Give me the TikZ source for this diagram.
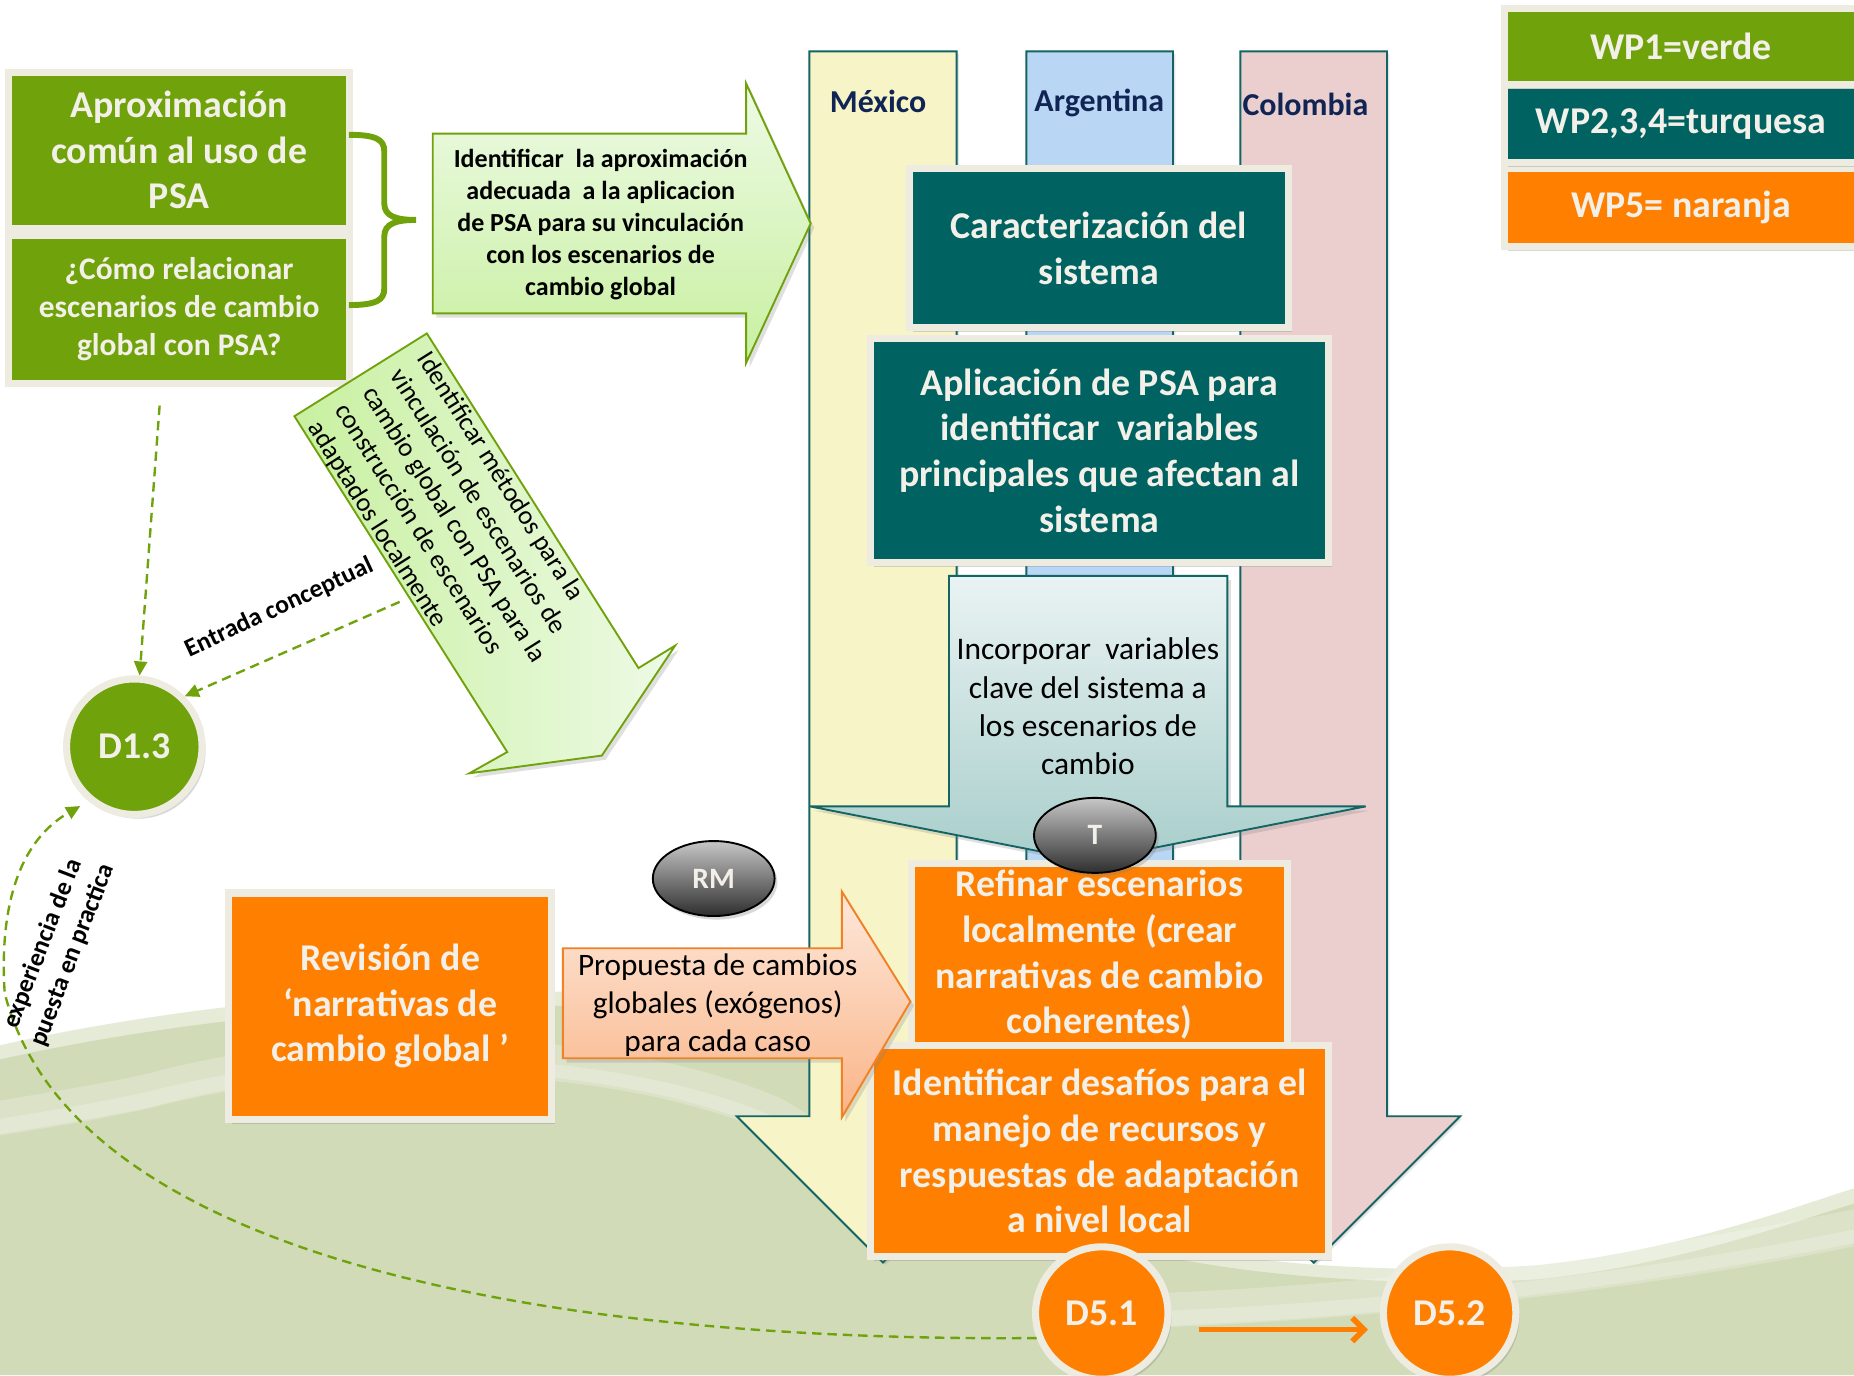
\documentclass[tikz,border=0pt]{standalone}
\usepackage{fontspec}
\setmainfont{Carlito}
\usetikzlibrary{shadows,arrows.meta,shapes.geometric}
\definecolor{wpgreen}{RGB}{112,162,12}
\definecolor{wpteal}{RGB}{0,99,98}
\definecolor{wporange}{RGB}{255,128,0}
\definecolor{beige}{RGB}{238,236,225}
\definecolor{cream}{RGB}{242,240,232}
\definecolor{navy}{RGB}{16,37,84}
\definecolor{colteal}{RGB}{20,100,100}
\definecolor{mexfill}{RGB}{247,245,200}
\definecolor{argfill}{RGB}{186,214,245}
\definecolor{colfill}{RGB}{235,207,206}
\definecolor{bggreen}{RGB}{209,219,184}
\definecolor{lgtop}{RGB}{238,250,230}
\definecolor{lgbot}{RGB}{200,240,160}
\definecolor{ictop}{RGB}{234,243,243}
\definecolor{icbot}{RGB}{168,206,203}
\definecolor{ortop}{RGB}{253,232,218}
\definecolor{orbot}{RGB}{250,180,135}
\definecolor{orline}{RGB}{242,128,36}
\tikzset{
  wpbox/.style={draw=beige, line width=3pt, inner sep=0pt, outer sep=0pt, text=cream, align=center,
    drop shadow={shadow xshift=1.5pt, shadow yshift=-1.8pt, opacity=0.3}},
  btxt/.style={font=\bfseries\fontsize{16}{19.3}\selectfont},
  dcirc/.style={circle, draw=beige, line width=3pt, inner sep=0pt, text=cream,
    font=\bfseries\fontsize{16}{19}\selectfont,
    drop shadow={shadow xshift=1.5pt, shadow yshift=-1.8pt, opacity=0.3}},
  grayell/.style={ellipse, draw=black, line width=0.8pt, top color=black!22, bottom color=black!82,
    minimum width=51.5pt, minimum height=31.7pt, inner sep=0pt, text=cream,
    font=\bfseries\fontsize{12.5}{14}\selectfont,
    drop shadow={shadow xshift=1.2pt, shadow yshift=-1.5pt, opacity=0.3}},
  dasharrow/.style={draw=wpgreen, line width=1pt, dash pattern=on 4pt off 2.5pt,
    -{Triangle[length=6pt,width=5.5pt]}},
  countryarrow/.style={draw=colteal, line width=0.8pt,
    drop shadow={shadow xshift=1pt, shadow yshift=-1pt, opacity=0.2}},
  countrylbl/.style={text=navy, font=\bfseries\fontsize{13.5}{16}\selectfont},
  blockarrow/.style={line width=0.8pt,
    drop shadow={shadow xshift=1.5pt, shadow yshift=-1.8pt, opacity=0.25}},
  softband/.style={white, opacity=0.22},
}
\begin{document}
\begin{tikzpicture}[x=0.5pt,y=-0.5pt]
\useasboundingbox (0,0) rectangle (1568,1163);
\begin{scope}
\clip (0,0) rectangle (1568,1163);
\fill[white] (0,0) rectangle (1568,1163);
% background swoosh
\fill[bggreen!55] (0,884) .. controls (150,850) and (400,820) .. (600,850) .. controls (700,866) and (800,930) .. (900,1030) .. controls (1000,1065) and (1150,1080) .. (1300,1070) .. controls (1420,1058) and (1520,1020) .. (1568,1005) -- (1568,1163) -- (0,1163) -- cycle;
\fill[bggreen] (0,896) .. controls (150,862) and (400,832) .. (600,862) .. controls (700,878) and (800,945) .. (900,1040) .. controls (1000,1075) and (1150,1090) .. (1300,1082) .. controls (1420,1070) and (1520,1032) .. (1568,1018) -- (1568,1163) -- (0,1163) -- cycle;
\draw[softband, line width=14pt] (-30,950) .. controls (60,935) and (90,930) .. (127,922) .. controls (300,875) and (520,885) .. (653,941) .. controls (690,960) and (720,990) .. (760,1050);
\draw[softband, line width=7pt] (-30,958) .. controls (60,944) and (90,938) .. (127,930) .. controls (300,885) and (520,895) .. (650,950) .. controls (690,970) and (720,1000) .. (760,1060);
\draw[softband, line width=14pt] (900,1110) .. controls (1150,1106) and (1420,1070) .. (1600,1030);
\draw[softband, line width=7pt] (900,1118) .. controls (1150,1114) and (1420,1080) .. (1600,1040);

% country columns
\path[countryarrow, fill=mexfill] (684.5,43.5) -- (809,43.5) -- (809,944) -- (870.5,944) -- (746.75,1067.75) -- (623,944) -- (684.5,944) -- cycle;
\path[countryarrow, fill=argfill] (868,43.5) -- (992,43.5) -- (992,944) -- (1054,944) -- (930,1068) -- (806,944) -- (868,944) -- cycle;
\path[countryarrow, fill=colfill] (1049,43.5) -- (1173,43.5) -- (1173,944) -- (1235,944) -- (1111,1068) -- (987,944) -- (1049,944) -- cycle;
\node[countrylbl] (mex) at (742.6,86) {México};
\node[countrylbl] (arg) at (929.7,86.8) {Argentina};
\node[countrylbl] (col) at (1104,88.6) {Colombia};

% WP1 boxes
\node[wpbox, fill=wpgreen, minimum width=144pt, minimum height=62.5pt, font=\bfseries\fontsize{13.3}{16}\selectfont] (g2) at (151.5,261.5) {¿Cómo relacionar\\escenarios de cambio\\global con PSA?};
\node[wpbox, fill=wpgreen, minimum width=144pt, minimum height=66pt, btxt] (g1) at (151.5,127) {Aproximación\\común al uso de\\PSA};
\draw[wpgreen, line width=2.5pt] (295,114) .. controls (318,114) and (325,118) .. (325,128) -- (325,172) .. controls (325,183) and (335,186) .. (352,186) .. controls (335,186) and (325,189) .. (325,200) -- (325,244) .. controls (325,254) and (318,258) .. (295,258);

% green right arrow
\path[blockarrow, draw=wpgreen, top color=lgtop, bottom color=lgbot] (366,113) -- (631,113) -- (631,70.5) -- (685.6,189) -- (631,307) -- (631,265) -- (366,265) -- cycle;
\node[align=center, font=\bfseries\fontsize{11}{13.5}\selectfont] (t1) at (508,190) {Identificar\ \ la aproximación\\adecuada\ \ a la aplicacion\\de PSA para su vinculación\\con los escenarios de\\cambio global};

% diagonal arrow
\path[blockarrow, draw=wpgreen, left color=lgbot, right color=lgtop] (361,282) -- (540,565) -- (571,546) -- (509,639) -- (397,654) -- (429,636) -- (249,352) -- cycle;
\node[rotate=-57.7, anchor=west, align=left, inner sep=0pt, font=\fontsize{11.2}{13.7}\selectfont] (t2) at (311,329) {Identificar métodos para la\\vinculación de escenarios de\\cambio global con PSA para la\\construcción de escenarios\\adaptados localmente};

% WP2-4 boxes
\node[wpbox, fill=wpteal, minimum width=160pt, minimum height=67.25pt, btxt] (car) at (929.5,210) {Caracterización del\\sistema};
\node[wpbox, fill=wpteal, minimum width=193.75pt, minimum height=95pt, btxt] (apl) at (929.75,381) {Aplicación de PSA para\\identificar\ \ variables\\principales que afectan al\\sistema};

% incorporar arrow
\path[blockarrow, draw=colteal, top color=ictop, bottom color=icbot] (802.6,487) -- (1038,487) -- (1038,682) -- (1155,682) -- (920,728) -- (685,682) -- (802.6,682) -- cycle;
\node[align=center, font=\fontsize{13.3}{16.25}\selectfont] (t3) at (920,597.5) {Incorporar\ \ variables\\clave del sistema a\\los escenarios de\\cambio};

% WP5 boxes
\node[wpbox, fill=wporange, minimum width=159pt, minimum height=77.5pt, btxt] (ref) at (930,807.5) {Refinar escenarios\\localmente (crear\\narrativas de cambio\\coherentes)};
\node[wpbox, fill=wporange, minimum width=193.5pt, minimum height=89pt, btxt] (ide) at (930,973.5) {Identificar desafíos para el\\manejo de recursos y\\respuestas de adaptación\\a nivel local};
\node[grayell] (T) at (926,706.5) {T};
\node[wpbox, fill=wporange, minimum width=136.5pt, minimum height=95.75pt, btxt] (rev) at (330,851) {Revisión de\\‘narrativas de\\cambio global ’};

% propuesta arrow
\path[blockarrow, draw=orline, top color=ortop, bottom color=orbot] (476,802) -- (712,802) -- (712,754) -- (770,847) -- (712,945) -- (712,895) -- (476,895) -- cycle;
\node[align=center, font=\fontsize{13.2}{16}\selectfont] (t4) at (607,850) {Propuesta de cambios\\globales (exógenos)\\para cada caso};
\node[grayell] (RM) at (603.6,743) {RM};

% deliverables
\node[dcirc, fill=wpgreen, minimum size=57.3pt] (d13) at (113.6,631.5) {D1.3};
\node[dcirc, fill=wporange, minimum size=56pt] (d51) at (931.8,1110.5) {D5.1};
\node[dcirc, fill=wporange, minimum size=56pt] (d52) at (1226,1110.5) {D5.2};

% connectors
\coordinate (c1) at (135,343);
\draw[dasharrow] (c1) -- (d13);
\coordinate (c2) at (338,509);
\draw[dasharrow] (c2) -- (d13.45);
\coordinate (c3) at (4,840);
\draw[dasharrow, shorten >=4pt] (d51.201) .. controls (450,1135) and (60,1060) .. (c3) .. controls (0,780) and (10,715) .. (d13.230);
\draw[wporange, line width=2.4pt, -{Straight Barb[length=5pt,width=10pt]}, shorten <=11.5pt, shorten >=5pt] ([yshift=-7pt]d51.east) -- ([yshift=-7pt]d52.west);
\node[rotate=25, font=\bfseries\fontsize{10.8}{13}\selectfont] (lent) at (236,514) {Entrada conceptual};
\node[rotate=69, align=center, inner sep=0pt, font=\bfseries\fontsize{10.8}{13.5}\selectfont] (lexp) at (49,803) {experiencia de la\\puesta en practica};

% legend
\node[wpbox, fill=wporange, minimum width=149.3pt, minimum height=33pt, btxt] (wp5) at (1421.7,175.3) {WP5= naranja};
\node[wpbox, fill=wpteal, minimum width=149.3pt, minimum height=32.5pt, btxt] (wp2) at (1421.7,105) {WP2,3,4=turquesa};
\node[wpbox, fill=wpgreen, minimum width=149.3pt, minimum height=32.25pt, btxt] (wp1) at (1421.7,39.25) {WP1=verde};
\end{scope}
\end{tikzpicture}
\end{document}
